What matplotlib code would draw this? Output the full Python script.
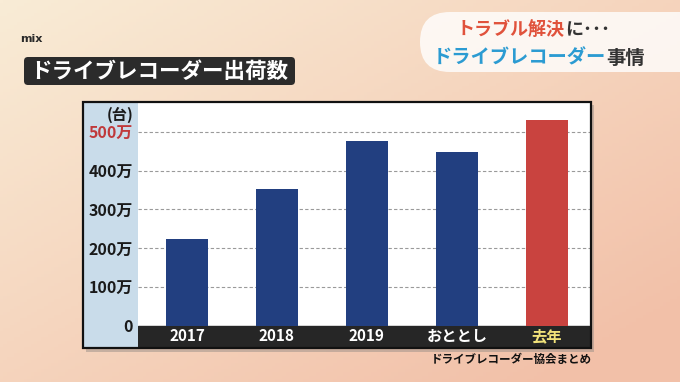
import numpy as np
import matplotlib
matplotlib.use("Agg")
import matplotlib.pyplot as plt
from matplotlib.patches import FancyBboxPatch, Rectangle

plt.rcParams["font.family"] = ["Noto Sans CJK JP", "DejaVu Sans"]

# data (unit: 万台)
categories = ["2017", "2018", "2019", "おととし", "去年"]
shipments = [223, 352, 477, 449, 531]
bar_colors = ["#223f80", "#223f80", "#223f80", "#223f80", "#c9433f"]
label_colors = ["white", "white", "white", "white", "#f1e27a"]
y_ticks = [0, 100, 200, 300, 400, 500]
y_labels = ["0", "100万", "200万", "300万", "400万", "500万"]
y_label_colors = ["#1a1a1a"] * 5 + ["#c0393b"]

W, H = 680, 382
fig = plt.figure(figsize=(W / 100, H / 100), dpi=100)

# background in pixel coordinates
bg = fig.add_axes([0, 0, 1, 1], zorder=0)
bg.set_xlim(0, W)
bg.set_ylim(H, 0)
bg.axis("off")

gx = np.linspace(0, 1, 200)
gy = np.linspace(0, 1, 120)
GX, GY = np.meshgrid(gx, gy)
t = np.clip(0.55 * GX + 0.55 * GY, 0, 1)[..., None]
c0 = np.array([249, 236, 214]) / 255
c1 = np.array([242, 192, 168]) / 255
bg.imshow(c0 * (1 - t) + c1 * t, extent=[0, W, H, 0], aspect="auto", zorder=0)


def chain(x0, y, pieces, size):
    """draw coloured text pieces one after another on a line"""
    renderer = fig.canvas.get_renderer()
    x = x0
    for s, col in pieces:
        txt = bg.text(x, y, s, color=col, fontsize=size, fontweight="bold",
                      ha="left", va="center", zorder=2)
        ext = txt.get_window_extent(renderer)
        x += ext.width


# top-right caption pill
bg.add_patch(FancyBboxPatch((420, 12), 300, 60, boxstyle="round,pad=0,rounding_size=30",
                            fc="white", ec="none", alpha=0.8, zorder=1))
chain(457, 30, [("トラブル解決", "#e0523c"), ("に･･･", "#333333")], 13.0)
chain(433, 58, [("ドライブレコーダー", "#2b9bd2"), ("事情", "#333333")], 13.9)

# logo and title box
bg.text(20, 39, "mix", color="#2a2a2a", fontsize=8, fontweight="bold",
        family="DejaVu Sans", ha="left", va="center", zorder=2)
bg.add_patch(FancyBboxPatch((24, 57), 271, 28, boxstyle="round,pad=0,rounding_size=4",
                            fc="#2b2b2b", ec="none", zorder=1))
bg.text(159.5, 71, "ドライブレコーダー出荷数", color="white", fontsize=15.5,
        fontweight="bold", ha="center", va="center", zorder=2)

# chart frame shadow, white plot panel and light blue axis panel
bg.add_patch(Rectangle((86, 105), 508, 247, fc="#9a8f88", ec="none", alpha=0.5, zorder=1))
bg.add_patch(Rectangle((83, 102), 508, 246, fc="white", ec="none", zorder=1))
bg.add_patch(Rectangle((83, 102), 55, 246, fc="#c9dcea", ec="none", zorder=1))
bg.text(133, 115, "(台)", color="#1a1a1a", fontsize=11, fontweight="bold",
        ha="right", va="center", zorder=2)

bg.text(592, 359, "ドライブレコーダー協会まとめ", color="#111111", fontsize=8.3,
        fontweight="bold", ha="right", va="center", zorder=2)

# main chart
ax = fig.add_axes([138 / W, 1 - 348 / H, (591 - 138) / W, (348 - 102) / H], zorder=2)
ax.patch.set_alpha(0)
x = np.arange(len(categories))
ax.set_xlim(-0.544, 4.49)
ax.set_ylim(-58, 577)
ax.axhspan(-58, 0, color="#262626", zorder=1)
for v in y_ticks[1:]:
    ax.axhline(v, color="#9a9a9a", linewidth=0.8, linestyle=(0, (3, 2)), zorder=0)
ax.bar(x, shipments, width=0.47, color=bar_colors, zorder=2)
for xi, lab, col in zip(x, categories, label_colors):
    ax.text(xi, -27, lab, color=col, fontsize=11, fontweight="bold",
            ha="center", va="center", zorder=3)

ax.set_xticks([])
ax.set_yticks(y_ticks)
ax.set_yticklabels(y_labels, fontsize=11.5, fontweight="bold")
for tl, col in zip(ax.get_yticklabels(), y_label_colors):
    tl.set_color(col)
ax.tick_params(axis="y", length=0, pad=3.6)
for sp in ax.spines.values():
    sp.set_visible(False)

# frame border on top
top = fig.add_axes([0, 0, 1, 1], zorder=5)
top.set_xlim(0, W)
top.set_ylim(H, 0)
top.axis("off")
top.add_patch(Rectangle((83, 102), 508, 246, fc="none", ec="#111111", lw=1.6))

fig.savefig("out.png", dpi=100)
